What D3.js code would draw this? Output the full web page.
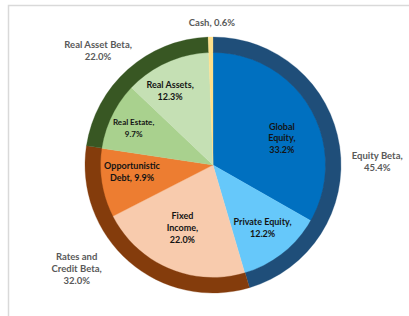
<!DOCTYPE html>
<html>
<head>
<meta charset="utf-8">
<script src="https://cdn.jsdelivr.net/npm/d3@7"></script>
<style>
  html, body { margin: 0; padding: 0; background: #fff; }
  svg { display: block; }
  text { font-family: Lato, "Open Sans", "Liberation Sans", sans-serif; font-weight: 700; }
</style>
</head>
<body>
<svg id="chart" width="409" height="316"></svg>
<script>
// ---- data ----
const innerCategories = ["Global Equity", "Private Equity", "Fixed Income", "Opportunistic Debt", "Real Estate", "Real Assets", "Cash"];
const innerValues = [33.2, 12.2, 22.0, 9.9, 9.7, 12.3, 0.6];
const innerLabelLines = [["Global", "Equity,", "{v}"], ["Private Equity,", "{v}"], ["Fixed", "Income,", "{v}"], ["Opportunistic", "Debt, {v}"], ["Real Estate,", "{v}"], ["Real Assets,", "{v}"], null];

const outerCategories = ["Equity Beta", "Rates and Credit Beta", "Real Asset Beta", "Cash"];
const outerValues = [45.4, 32.0, 22.0, 0.6];
const outerLabelLines = [["Equity Beta,", "{v}"], ["Rates and", "Credit Beta,", "{v}"], ["Real Asset Beta,", "{v}"], ["Cash, {v}"]];

// ---- styles / layout ----
const innerColors = ["#0070C0", "#66C8FA", "#F8CBAD", "#ED7D31", "#A9D18E", "#C5E0B4", "#FFE08A"];
const outerColors = ["#1F4E79", "#843C0C", "#385723", "#FFE08A"];
const innerNudge = [[4, 11], [3, 4], [-1, -6], [-7, -5], [-12, -4], [-12, -6], [0, 0]];
const outerNudge = [[1, 20], [-28, -21], [-5, 9], [2, 22.5]];
const cx = 213, cy = 165, rInner = 113, rOuter = 128;
const fmt = v => d3.format(".1f")(v) + "%";

const svg = d3.select("#chart");

// frame lines
svg.append("path")
  .attr("d", "M8.5,316 L8.5,5.5 L409,5.5")
  .attr("fill", "none").attr("stroke", "#d9d9d9").attr("stroke-width", 1.5);

const g = svg.append("g").attr("transform", `translate(${cx},${cy})`);

const pie = d3.pie().sort(null).value(d => d);
const innerArcs = pie(innerValues);
const outerArcs = pie(outerValues);

const arcInner = d3.arc().innerRadius(0).outerRadius(rInner);
const arcOuter = d3.arc().innerRadius(rInner - 0.5).outerRadius(rOuter);

g.selectAll("path.inner").data(innerArcs).enter().append("path")
  .attr("class", "inner")
  .attr("d", arcInner)
  .attr("fill", (d, i) => innerColors[i])
  .attr("stroke", (d, i) => innerColors[i]).attr("stroke-width", 0.3);

g.selectAll("path.outer").data(outerArcs).enter().append("path")
  .attr("class", "outer")
  .attr("d", arcOuter)
  .attr("fill", (d, i) => outerColors[i])
  .attr("stroke", (d, i) => outerColors[i]).attr("stroke-width", 0.3);

// inner labels
const labelArcIn = d3.arc().innerRadius(75).outerRadius(75);
const lh = 11.8;
innerArcs.forEach((d, i) => {
  const lines = innerLabelLines[i];
  if (!lines) return;
  const [x, y] = labelArcIn.centroid(d);
  const fs = innerCategories[i] === "Real Estate" ? 8 : 9;
  const t = g.append("text")
    .attr("text-anchor", "middle")
    .attr("fill", "#141414")
    .attr("font-size", fs);
  const n = lines.length;
  lines.forEach((l, k) => {
    t.append("tspan")
      .attr("x", x + innerNudge[i][0])
      .attr("y", y + innerNudge[i][1] + (k - (n - 1) / 2) * lh)
      .attr("dy", "0.35em")
      .text(l.replace("{v}", fmt(innerValues[i])));
  });
});

// outer labels (best-fit placement relative to arc centroid)
const labelArcOut = d3.arc().innerRadius(165).outerRadius(165);
outerArcs.forEach((d, i) => {
  const lines = outerLabelLines[i];
  const c = labelArcOut.centroid(d);
  const x = c[0] + outerNudge[i][0], y = c[1] + outerNudge[i][1];
  const t = g.append("text")
    .attr("text-anchor", "middle")
    .attr("fill", "#595959")
    .attr("font-size", 9.5);
  const n = lines.length;
  lines.forEach((l, k) => {
    t.append("tspan")
      .attr("x", x)
      .attr("y", y + (k - (n - 1) / 2) * 12)
      .attr("dy", "0.35em")
      .text(l.replace("{v}", fmt(outerValues[i])));
  });
});
</script>
</body>
</html>
